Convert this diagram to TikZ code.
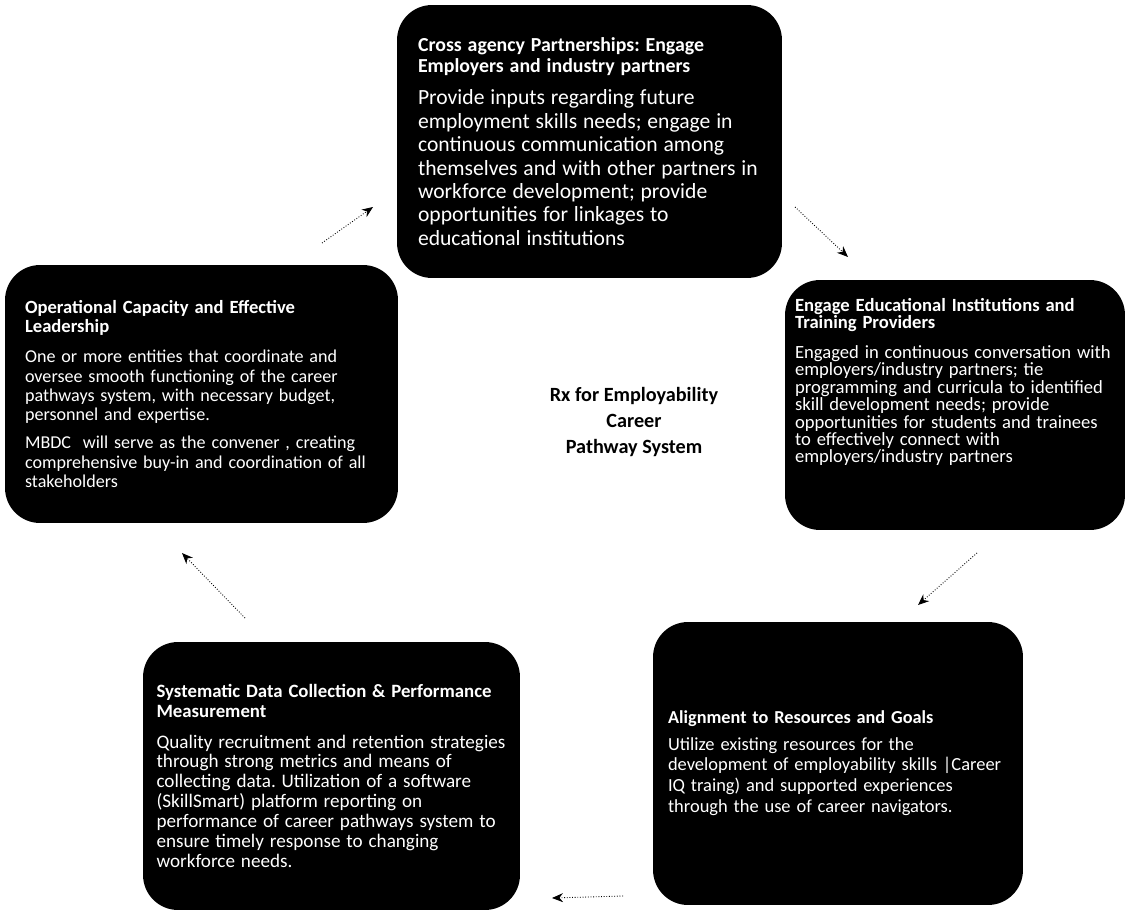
\documentclass[tikz,border=0pt]{standalone}
\usepackage{fontspec}
\setmainfont{Carlito}
\usepackage{tikz}
\usetikzlibrary{arrows.meta}
\frenchspacing
\hyphenpenalty=10000
\tikzset{
	panel/.style={fill=black, text=white, rounded corners=0.7cm, align=left, inner ysep=0pt},
	flow/.style={densely dotted, line width=0.5pt, arrows={-Stealth[length=2.2mm, width=1.8mm]}},
}
\newcommand{\boxsize}[2]{\fontsize{#1}{#2}\selectfont}

\begin{document}
\begin{tikzpicture}[x=0.02cm, y=-0.02cm]
		\useasboundingbox (0,0) rectangle (1128,912);
		\node[panel, minimum width=7.7cm, minimum height=5.46cm, text width=6.86cm] (partners) at (589.5,141.5) {{\boxsize{11.3}{12}\bfseries Cross agency Partnerships: Engage\\Employers and industry partners\par}\vspace{5pt}{\boxsize{12.3}{13.3}Provide inputs regarding future\\employment skills needs; engage in\\continuous communication among\\themselves and with other partners in\\workforce development; provide\\opportunities for linkages to\\educational institutions\par}};
		\node[panel, minimum width=6.8cm, minimum height=5.0cm, text width=6.4cm, inner xsep=0.2cm] (schools) at (955,405) {{\boxsize{10.6}{9.9}\bfseries Engage Educational Institutions and\\Training Providers\par}\vspace{7pt}{\boxsize{10.6}{9.9}Engaged in continuous conversation with\\employers/industry partners; tie\\programming and curricula to identified\\skill development needs; provide\\opportunities for students and trainees\\to effectively connect with\\employers/industry partners\par}\vspace{26pt}};
		\node[panel, minimum width=7.4cm, minimum height=5.66cm, text width=6.8cm, inner xsep=0.3cm] (resources) at (838,763.5) {{\boxsize{10.4}{11.9}\bfseries Alignment to Resources and Goals\par}\vspace{3pt}{\boxsize{10.5}{11.9}Utilize existing resources for the\\development of employability skills |Career\\IQ traing) and supported experiences\\through the use of career navigators.\par}};
		\node[panel, minimum width=7.54cm, minimum height=5.36cm, text width=7.0cm, inner xsep=0.27cm] (data) at (331.5,776) {{\boxsize{10.7}{11.3}\bfseries Systematic Data Collection \& Performance\\Measurement\par}\vspace{6pt}{\boxsize{10.9}{11.3}Quality recruitment and retention strategies\\through strong metrics and means of\\collecting data. Utilization of a software\\(SkillSmart) platform reporting on\\performance of career pathways system to\\ensure timely response to changing\\workforce needs.\par}};
		\node[panel, minimum width=7.86cm, minimum height=5.16cm, text width=7.06cm] (leadership) at (201.5,394) {{\boxsize{10.6}{11}\bfseries Operational Capacity and Effective\\Leadership\par}\vspace{6pt}{\boxsize{10.3}{11}One or more entities that coordinate and\\oversee smooth functioning of the career\\pathways system, with necessary budget,\\personnel and expertise.\par}\vspace{5pt}{\boxsize{10.3}{11}MBDC\ \ will serve as the convener , creating\\comprehensive buy-in and coordination of all\\stakeholders\par}};
		\node[align=center, font=\boxsize{11.5}{14.8}\bfseries] (system) at (634,422) {Rx for Employability\\Career\\Pathway System};

		\coordinate (l2p-s) at (322,243);
		\coordinate (l2p-e) at (373,207);
		\coordinate (p2s-s) at (795,207);
		\coordinate (p2s-e) at (848,257);
		\coordinate (s2r-s) at (977,553);
		\coordinate (s2r-e) at (918,605);
		\coordinate (r2d-s) at (623,896);
		\coordinate (r2d-e) at (552,898);
		\coordinate (d2l-s) at (245,618);
		\coordinate (d2l-e) at (182,553);
		\draw[flow] (l2p-s) -- (l2p-e);
		\draw[flow] (p2s-s) -- (p2s-e);
		\draw[flow] (s2r-s) -- (s2r-e);
		\draw[flow] (r2d-s) -- (r2d-e);
		\draw[flow] (d2l-s) -- (d2l-e);

	\end{tikzpicture}
\end{document}
